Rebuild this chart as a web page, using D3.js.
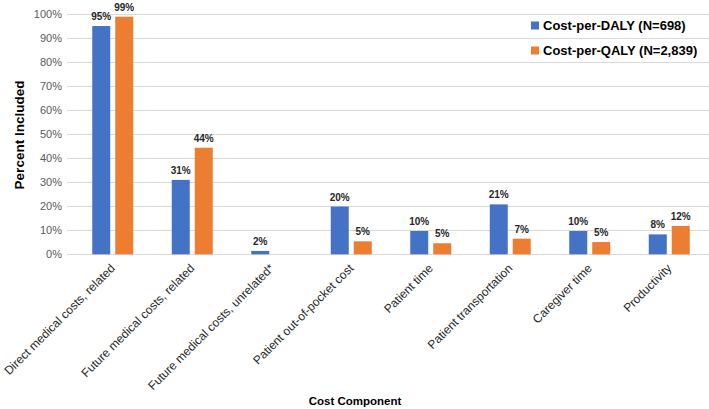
<!DOCTYPE html>
<html>
<head>
<meta charset="utf-8">
<script src="https://cdn.jsdelivr.net/npm/d3@7"></script>
<style>
  html, body { margin: 0; padding: 0; background: #fff; }
  svg { display: block; font-family: "Liberation Sans", Arial, sans-serif; }
</style>
</head>
<body>
<svg id="chart" width="709" height="409"></svg>
<script>
const categories = [
  "Direct medical costs, related",
  "Future medical costs, related",
  "Future medical costs, unrelated*",
  "Patient out-of-pocket cost",
  "Patient time",
  "Patient transportation",
  "Caregiver time",
  "Productivity"
];
const seriesNames = ["Cost-per-DALY (N=698)", "Cost-per-QALY (N=2,839)"];
const dalyValues = [95.1, 31.0, 1.4, 19.9, 9.7, 20.8, 9.7, 8.3];
const qalyValues = [99.0, 44.4, 0, 5.4, 4.6, 6.5, 5.1, 11.8];
const dalyLabels = ["95%", "31%", "2%", "20%", "10%", "21%", "10%", "8%"];
const qalyLabels = ["99%", "44%", null, "5%", "5%", "7%", "5%", "12%"];
const yTicks = [0, 10, 20, 30, 40, 50, 60, 70, 80, 90, 100];
const colors = ["#4472C4", "#ED7D31"];

const svg = d3.select("#chart");
const plot = { left: 73, right: 709, top: 14.3, bottom: 254.3 };

const x0 = d3.scaleBand().domain(categories).range([plot.left, plot.right]).padding(0);
const groupW = 41;
const x1 = d3.scaleBand().domain(seriesNames)
  .range([(x0.bandwidth() - groupW) / 2, (x0.bandwidth() + groupW) / 2])
  .paddingInner(0.217);
const y = d3.scaleLinear().domain([0, 100]).range([plot.bottom, plot.top]);

// gridlines
svg.append("g").selectAll("line").data(yTicks).join("line")
  .attr("x1", 67).attr("x2", plot.right)
  .attr("y1", d => Math.round(y(d)) + 0.5).attr("y2", d => Math.round(y(d)) + 0.5)
  .attr("stroke", "#d9d9d9").attr("stroke-width", 1);

// y axis labels
const yAxis = d3.axisLeft(y).tickValues(yTicks).tickFormat(d => d + "%").tickSize(0).tickPadding(0);
const yg = svg.append("g").attr("transform", `translate(62,0)`).call(yAxis);
yg.select(".domain").remove();
yg.selectAll("text").attr("fill", "#595959").style("font-size", "11px")
  .style("font-family", '"Liberation Sans", Arial, sans-serif');

// bars
const data = categories.map((c, i) => ({
  cat: c,
  vals: [
    { s: seriesNames[0], v: dalyValues[i], lab: dalyLabels[i], k: 0 },
    { s: seriesNames[1], v: qalyValues[i], lab: qalyLabels[i], k: 1 }
  ]
}));

const groups = svg.append("g").selectAll("g").data(data).join("g")
  .attr("transform", d => `translate(${x0(d.cat)},0)`);

groups.selectAll("rect").data(d => d.vals).join("rect")
  .attr("x", d => x1(d.s)).attr("width", x1.bandwidth())
  .attr("y", d => y(d.v)).attr("height", d => y(0) - y(d.v))
  .attr("fill", d => colors[d.k]);

groups.selectAll("text").data(d => d.vals.filter(v => v.lab)).join("text")
  .attr("x", d => x1(d.s) + x1.bandwidth() / 2)
  .attr("y", d => y(d.v) - 6)
  .attr("text-anchor", "middle")
  .attr("font-weight", "bold").attr("font-size", "10px").attr("fill", "#262626")
  .text(d => d.lab);

// x category labels
svg.append("g").selectAll("text").data(categories).join("text")
  .attr("transform", d => `translate(${x0(d) + x0.bandwidth() / 2 + 3},269) rotate(-45)`)
  .attr("text-anchor", "end")
  .attr("font-size", "12px").attr("fill", "#262626")
  .text(d => d);

// axis titles
svg.append("text")
  .attr("transform", "translate(24,135) rotate(-90)")
  .attr("text-anchor", "middle").attr("font-weight", "bold").attr("font-size", "13.5px")
  .attr("fill", "#000").text("Percent Included");

svg.append("text")
  .attr("x", 355).attr("y", 405)
  .attr("text-anchor", "middle").attr("font-weight", "bold").attr("font-size", "11.5px")
  .attr("fill", "#000").text("Cost Component");

// legend
const legend = svg.append("g").selectAll("g").data(seriesNames).join("g")
  .attr("transform", (d, i) => `translate(531,${25.5 + i * 25})`);
legend.append("rect").attr("x", 0).attr("y", -4).attr("width", 8).attr("height", 8)
  .attr("fill", (d, i) => colors[i]);
legend.append("text").attr("x", 12).attr("y", 0).attr("dy", "0.35em")
  .attr("font-weight", "bold").attr("font-size", "13px").attr("fill", "#000")
  .text(d => d);
</script>
</body>
</html>
